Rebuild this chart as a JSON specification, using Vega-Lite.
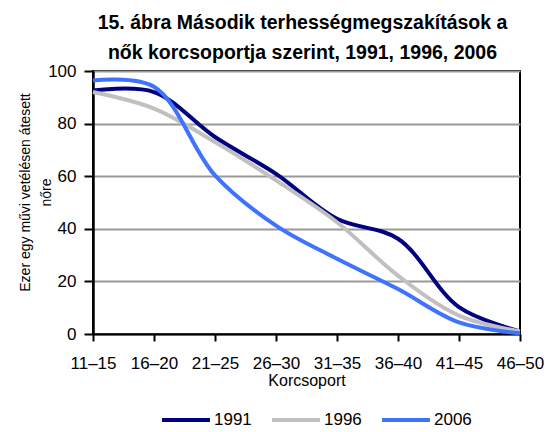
{
  "$schema": "https://vega.github.io/schema/vega-lite/v6.json",
  "width": 427,
  "height": 263,
  "autosize": {"type": "none"},
  "padding": {"left": 93, "top": 71, "right": 30, "bottom": 98},
  "title": {
    "text": ["15. ábra Második terhességmegszakítások a", "nők korcsoportja szerint, 1991, 1996, 2006"],
    "font": "Liberation Sans",
    "fontSize": 19.5,
    "fontWeight": "bold",
    "color": "#000000",
    "lineHeight": 30,
    "anchor": "middle",
    "dx": -4,
    "offset": -1
  },
  "data": {
    "values": [
      {"korcsoport": "11–15", "ev": "1991", "ertek": 92.6},
      {"korcsoport": "16–20", "ev": "1991", "ertek": 92.0},
      {"korcsoport": "21–25", "ev": "1991", "ertek": 74.9},
      {"korcsoport": "26–30", "ev": "1991", "ertek": 60.9},
      {"korcsoport": "31–35", "ev": "1991", "ertek": 43.8},
      {"korcsoport": "36–40", "ev": "1991", "ertek": 36.2},
      {"korcsoport": "41–45", "ev": "1991", "ertek": 10.2},
      {"korcsoport": "46–50", "ev": "1991", "ertek": 1.0},
      {"korcsoport": "11–15", "ev": "1996", "ertek": 92.0},
      {"korcsoport": "16–20", "ev": "1996", "ertek": 85.7},
      {"korcsoport": "21–25", "ev": "1996", "ertek": 73.0},
      {"korcsoport": "26–30", "ev": "1996", "ertek": 58.4},
      {"korcsoport": "31–35", "ev": "1996", "ertek": 42.5},
      {"korcsoport": "36–40", "ev": "1996", "ertek": 22.2},
      {"korcsoport": "41–45", "ev": "1996", "ertek": 7.0},
      {"korcsoport": "46–50", "ev": "1996", "ertek": 1.0},
      {"korcsoport": "11–15", "ev": "2006", "ertek": 96.4},
      {"korcsoport": "16–20", "ev": "2006", "ertek": 94.0},
      {"korcsoport": "21–25", "ev": "2006", "ertek": 60.3},
      {"korcsoport": "26–30", "ev": "2006", "ertek": 41.2},
      {"korcsoport": "31–35", "ev": "2006", "ertek": 28.6},
      {"korcsoport": "36–40", "ev": "2006", "ertek": 17.1},
      {"korcsoport": "41–45", "ev": "2006", "ertek": 4.4},
      {"korcsoport": "46–50", "ev": "2006", "ertek": 0.3}
    ]
  },
  "mark": {"type": "line", "interpolate": "catmull-rom", "strokeWidth": 4},
  "encoding": {
    "x": {
      "field": "korcsoport",
      "type": "ordinal",
      "scale": {"type": "point", "padding": 0},
      "sort": null,
      "axis": {
        "title": "Korcsoport",
        "titleFont": "Liberation Sans",
        "titleFontSize": 16,
        "titleFontWeight": "normal",
        "titleColor": "#000000",
        "titlePadding": 1,
        "labelFont": "Liberation Sans",
        "labelFontSize": 17,
        "labelColor": "#000000",
        "labelAngle": 0,
        "labelPadding": 14,
        "domainColor": "#000000",
        "domainWidth": 2,
        "tickColor": "#000000",
        "tickWidth": 2,
        "tickSize": 7,
        "grid": false
      }
    },
    "y": {
      "field": "ertek",
      "type": "quantitative",
      "scale": {"domain": [0, 100], "nice": false},
      "axis": {
        "values": [0, 20, 40, 60, 80, 100],
        "title": ["Ezer egy művi vetélésen átesett", "nőre"],
        "titleFont": "Liberation Sans",
        "titleFontSize": 14,
        "titleFontWeight": "normal",
        "titleColor": "#000000",
        "titleLineHeight": 21,
        "titlePadding": -6,
        "titleY": 121,
        "labelFont": "Liberation Sans",
        "labelFontSize": 17,
        "labelColor": "#000000",
        "labelPadding": 8,
        "domainColor": "#000000",
        "domainWidth": 2.5,
        "tickColor": "#000000",
        "tickWidth": 2,
        "tickSize": 9,
        "grid": true,
        "gridColor": "#999999",
        "gridWidth": 2
      }
    },
    "color": {
      "field": "ev",
      "type": "nominal",
      "scale": {"domain": ["1991", "1996", "2006"], "range": ["#000080", "#C0C0C0", "#3F72FF"]},
      "legend": {
        "title": null,
        "orient": "none",
        "legendX": 67,
        "legendY": 323,
        "direction": "horizontal",
        "symbolType": "stroke",
        "symbolSize": 2300,
        "symbolStrokeWidth": 4,
        "labelFont": "Liberation Sans",
        "labelFontSize": 17,
        "labelColor": "#000000",
        "columnPadding": 12,
        "labelOffset": 2
      }
    }
  },
  "config": {
    "view": {"stroke": "#000000", "strokeWidth": 2},
    "background": "#ffffff"
  }
}
